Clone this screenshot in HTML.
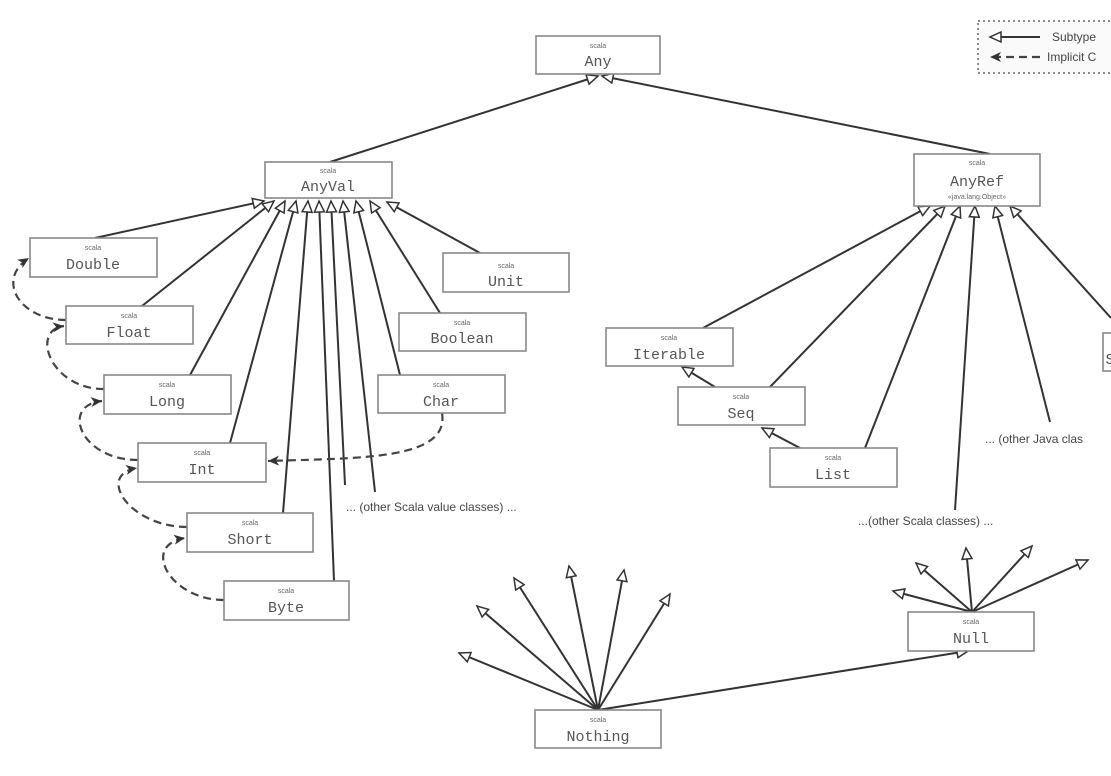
<!DOCTYPE html>
<html><head><meta charset="utf-8"><style>
html,body{margin:0;padding:0;background:#fff;}
svg{display:block;}
.b{fill:#fff;stroke:#888;stroke-width:1.6;}
.s{font-family:"Liberation Sans",sans-serif;font-size:7px;fill:#666;text-anchor:middle;}
.n{font-family:"Liberation Mono",monospace;font-size:15px;fill:#555;text-anchor:middle;}
.l{stroke:#333;stroke-width:2;fill:none;}
.d{stroke:#444;stroke-width:2.2;fill:none;stroke-dasharray:8,5;}
.t{font-family:"Liberation Sans",sans-serif;font-size:12px;fill:#444;}
</style></head><body>
<svg width="1111" height="776" viewBox="0 0 1111 776" xmlns="http://www.w3.org/2000/svg">
<defs>
<marker id="o" markerWidth="14" markerHeight="12" refX="12" refY="6" orient="auto" markerUnits="userSpaceOnUse">
<path d="M1,1 L12,6 L1,11 Z" fill="#fff" stroke="#333" stroke-width="1.5"/></marker>
<marker id="f" markerWidth="14" markerHeight="12" refX="12" refY="6" orient="auto" markerUnits="userSpaceOnUse">
<path d="M1,1 L12,6 L1,11 L4,6 Z" fill="#333"/></marker>
</defs>
<!-- legend -->
<rect x="978" y="21" width="140" height="52" fill="#fafafa" stroke="#666" stroke-width="1.5" stroke-dasharray="2,3"/>
<line x1="1040" y1="37" x2="990" y2="37" class="l" marker-end="url(#o)"/>
<text x="1052" y="41" class="t" font-size="10">Subtype</text>
<line x1="1040" y1="57" x2="990" y2="57" class="d" stroke-dasharray="6,3" marker-end="url(#f)"/>
<text x="1047" y="61" class="t" font-size="10">Implicit C</text>
<!-- subtype lines -->
<g class="l">
<line x1="330" y1="162" x2="598" y2="76" marker-end="url(#o)"/>
<line x1="990" y1="154" x2="602" y2="76" marker-end="url(#o)"/>
<line x1="95" y1="238" x2="264" y2="201" marker-end="url(#o)"/>
<line x1="142" y1="306" x2="274" y2="201" marker-end="url(#o)"/>
<line x1="190" y1="375" x2="285" y2="201" marker-end="url(#o)"/>
<line x1="230" y1="443" x2="296" y2="201" marker-end="url(#o)"/>
<line x1="283" y1="513" x2="308" y2="201" marker-end="url(#o)"/>
<line x1="334" y1="581" x2="319" y2="201" marker-end="url(#o)"/>
<line x1="345" y1="485" x2="331" y2="201" marker-end="url(#o)"/>
<line x1="375" y1="492" x2="343" y2="201" marker-end="url(#o)"/>
<line x1="400" y1="375" x2="356" y2="201" marker-end="url(#o)"/>
<line x1="440" y1="313" x2="370" y2="201" marker-end="url(#o)"/>
<line x1="480" y1="253" x2="387" y2="202" marker-end="url(#o)"/>
<line x1="703" y1="328" x2="930" y2="206" marker-end="url(#o)"/>
<line x1="770" y1="387" x2="945" y2="206" marker-end="url(#o)"/>
<line x1="865" y1="448" x2="960" y2="206" marker-end="url(#o)"/>
<line x1="955" y1="510" x2="975" y2="206" marker-end="url(#o)"/>
<line x1="1050" y1="422" x2="995" y2="206" marker-end="url(#o)"/>
<line x1="1111" y1="318" x2="1010" y2="206" marker-end="url(#o)"/>
<line x1="715" y1="387" x2="682" y2="367" marker-end="url(#o)"/>
<line x1="800" y1="448" x2="762" y2="428" marker-end="url(#o)"/>
<line x1="598" y1="710" x2="459" y2="653" marker-end="url(#o)"/>
<line x1="598" y1="710" x2="477" y2="606" marker-end="url(#o)"/>
<line x1="598" y1="710" x2="514" y2="578" marker-end="url(#o)"/>
<line x1="598" y1="710" x2="569" y2="566" marker-end="url(#o)"/>
<line x1="598" y1="710" x2="624" y2="570" marker-end="url(#o)"/>
<line x1="598" y1="710" x2="670" y2="594" marker-end="url(#o)"/>
<line x1="598" y1="710" x2="968" y2="651" marker-end="url(#o)"/>
<line x1="972" y1="612" x2="893" y2="591" marker-end="url(#o)"/>
<line x1="972" y1="612" x2="916" y2="563" marker-end="url(#o)"/>
<line x1="972" y1="612" x2="966" y2="548" marker-end="url(#o)"/>
<line x1="972" y1="612" x2="1032" y2="546" marker-end="url(#o)"/>
<line x1="972" y1="612" x2="1088" y2="560" marker-end="url(#o)"/>
</g>
<!-- implicit -->
<g class="d">
<path d="M66,320 C20,320 -5,280 29,258" marker-end="url(#f)"/>
<path d="M104,389 C50,389 30,330 64,326" marker-end="url(#f)"/>
<path d="M138,460 C80,460 60,405 102,401" marker-end="url(#f)"/>
<path d="M187,527 C130,527 95,475 137,468" marker-end="url(#f)"/>
<path d="M224,600 C170,600 140,545 185,538" marker-end="url(#f)"/>
<path d="M442,413 C450,460 360,458 268,461" marker-end="url(#f)"/>
</g>
<!-- boxes -->
<g>
<rect class="b" x="536" y="36" width="124" height="38"/><text class="s" x="598" y="48">scala</text><text class="n" x="598" y="66">Any</text>
<rect class="b" x="265" y="162" width="127" height="36"/><text class="s" x="328" y="173">scala</text><text class="n" x="328" y="191">AnyVal</text>
<rect class="b" x="914" y="154" width="126" height="52"/><text class="s" x="977" y="165">scala</text><text class="n" x="977" y="186">AnyRef</text><text class="s" x="977" y="199">«java.lang.Object»</text>
<rect class="b" x="30" y="238" width="127" height="39"/><text class="s" x="93" y="250">scala</text><text class="n" x="93" y="269">Double</text>
<rect class="b" x="66" y="306" width="127" height="38"/><text class="s" x="129" y="318">scala</text><text class="n" x="129" y="337">Float</text>
<rect class="b" x="443" y="253" width="126" height="39"/><text class="s" x="506" y="268">scala</text><text class="n" x="506" y="286">Unit</text>
<rect class="b" x="399" y="313" width="127" height="38"/><text class="s" x="462" y="325">scala</text><text class="n" x="462" y="343">Boolean</text>
<rect class="b" x="104" y="375" width="127" height="39"/><text class="s" x="167" y="387">scala</text><text class="n" x="167" y="406">Long</text>
<rect class="b" x="378" y="375" width="127" height="38"/><text class="s" x="441" y="387">scala</text><text class="n" x="441" y="406">Char</text>
<rect class="b" x="138" y="443" width="128" height="39"/><text class="s" x="202" y="455">scala</text><text class="n" x="202" y="474">Int</text>
<rect class="b" x="187" y="513" width="126" height="39"/><text class="s" x="250" y="525">scala</text><text class="n" x="250" y="544">Short</text>
<rect class="b" x="224" y="581" width="125" height="39"/><text class="s" x="286" y="593">scala</text><text class="n" x="286" y="612">Byte</text>
<rect class="b" x="606" y="328" width="127" height="38"/><text class="s" x="669" y="340">scala</text><text class="n" x="669" y="359">Iterable</text>
<rect class="b" x="678" y="387" width="127" height="38"/><text class="s" x="741" y="399">scala</text><text class="n" x="741" y="418">Seq</text>
<rect class="b" x="770" y="448" width="127" height="39"/><text class="s" x="833" y="460">scala</text><text class="n" x="833" y="479">List</text>
<rect class="b" x="1103" y="333" width="20" height="38"/><text class="n" x="1110" y="364">S</text>
<rect class="b" x="908" y="612" width="126" height="39"/><text class="s" x="971" y="624">scala</text><text class="n" x="971" y="643">Null</text>
<rect class="b" x="535" y="710" width="126" height="38"/><text class="s" x="598" y="722">scala</text><text class="n" x="598" y="741">Nothing</text>
</g>
<text class="t" x="346" y="511">... (other Scala value classes) ...</text>
<text class="t" x="858" y="525">...(other Scala classes) ...</text>
<text class="t" x="985" y="443">... (other Java clas</text>
</svg>
</body></html>
